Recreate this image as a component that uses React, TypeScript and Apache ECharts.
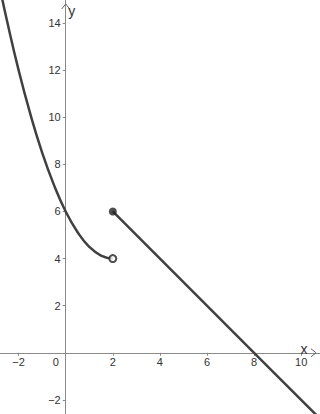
import React, { useEffect, useRef } from 'react';
import * as echarts from 'echarts';

const curveX = [-2.8, -2.5, -2, -1.5, -1, -0.5, 0, 0.5, 1, 1.5, 2];
const curveY = [15.52, 14.13, 12, 10.13, 8.5, 7.13, 6, 5.13, 4.5, 4.13, 4];
const lineX = [2, 8, 10.9];
const lineY = [6, 0, -2.9];
const closedPoint = [2, 6];
const openPoint = [2, 4];
const xLabels = [-2, 0, 2, 4, 6, 8, 10];
const xTicks = [-2, 2, 4, 6, 8, 10];
const yTicks = [-2, 2, 4, 6, 8, 10, 12, 14];
const xRange = [-2.79, 10.8];
const yRange = [-2.6, 14.98];

const FONT = '"Liberation Sans", Arial, sans-serif';
const AXIS_COLOR = '#8a8a8a';
const TEXT_COLOR = '#333';
const CURVE_COLOR = '#404040';

export default function App() {
  const ref = useRef<HTMLDivElement>(null);
  useEffect(() => {
    document.body.style.margin = '0';
    if (!ref.current) return;
    const chart = echarts.init(ref.current, null, { renderer: 'svg' });
    const option: any = {
      animation: false,
      backgroundColor: '#fff',
      grid: { left: 0, right: 0, top: 0, bottom: 0, containLabel: false, outerBoundsMode: 'none' },
      xAxis: {
        type: 'value',
        position: 'bottom',
        min: xRange[0],
        max: xRange[1],
        axisLine: { onZero: false, lineStyle: { color: AXIS_COLOR, width: 1 } },
        axisTick: { show: true, length: 3, customValues: xTicks, lineStyle: { color: AXIS_COLOR } },
        axisLabel: {
          customValues: xLabels,
          margin: 4,
          fontSize: 11,
          fontFamily: FONT,
          color: TEXT_COLOR,
          formatter: (v: number) => (v === 0 ? '{o|0}' : v < 0 ? '\u2212' + Math.abs(v) : String(v)),
          rich: { o: { fontSize: 11, fontFamily: FONT, color: TEXT_COLOR, padding: [0, 20, 0, 0] } },
        },
        splitLine: { show: false },
      },
      yAxis: {
        type: 'value',
        position: 'left',
        min: yRange[0],
        max: yRange[1],
        axisLine: { onZero: false, lineStyle: { color: AXIS_COLOR, width: 1 } },
        axisTick: { show: true, length: 3, customValues: yTicks, lineStyle: { color: AXIS_COLOR } },
        axisLabel: {
          customValues: yTicks,
          margin: 5,
          fontSize: 11,
          fontFamily: FONT,
          color: TEXT_COLOR,
          formatter: (v: number) => (v < 0 ? '\u2212' + Math.abs(v) : String(v)),
        },
        splitLine: { show: false },
      },
      series: [
        {
          type: 'line',
          data: curveX.map((x, i) => [x, curveY[i]]),
          smooth: true,
          showSymbol: false,
          lineStyle: { color: CURVE_COLOR, width: 2.5 },
          z: 2,
        },
        {
          type: 'line',
          data: lineX.map((x, i) => [x, lineY[i]]),
          showSymbol: false,
          lineStyle: { color: CURVE_COLOR, width: 2.5 },
          z: 2,
        },
        {
          type: 'scatter',
          data: [closedPoint],
          symbolSize: 8,
          itemStyle: { color: '#222' },
          z: 5,
        },
        {
          type: 'scatter',
          data: [openPoint],
          symbolSize: 7,
          itemStyle: { color: '#fff', borderColor: '#222', borderWidth: 2 },
          z: 5,
        },
      ],
    };
    chart.setOption(option);
    const o = chart.convertToPixel({ gridIndex: 0 }, [0, 0]) as number[];
    const w = chart.getWidth();
    const h = chart.getHeight();
    chart.setOption({
      xAxis: { offset: -(h - o[1]) },
      yAxis: { offset: -o[0] },
      graphic: [
        {
          type: 'polyline',
          shape: { points: [[w - 9, o[1] - 4], [w - 4, o[1]], [w - 9, o[1] + 4]] },
          style: { stroke: '#666', lineWidth: 1, fill: 'none' },
          z: 10,
        },
        {
          type: 'polyline',
          shape: { points: [[o[0] - 4, 9], [o[0], 4], [o[0] + 4, 9]] },
          style: { stroke: '#666', lineWidth: 1, fill: 'none' },
          z: 10,
        },
        {
          type: 'text',
          x: w - 16,
          y: o[1] - 4,
          style: { text: 'x', fontSize: 14, fontFamily: FONT, fill: TEXT_COLOR, align: 'center', verticalAlign: 'middle' },
          z: 10,
        },
        {
          type: 'text',
          x: o[0] + 6,
          y: 10.5,
          style: { text: 'y', fontSize: 14, fontFamily: FONT, fill: TEXT_COLOR, align: 'center', verticalAlign: 'middle' },
          z: 10,
        },
      ],
    });
    return () => chart.dispose();
  }, []);
  return <div ref={ref} style={{ width: 320, height: 414 }} />;
}
